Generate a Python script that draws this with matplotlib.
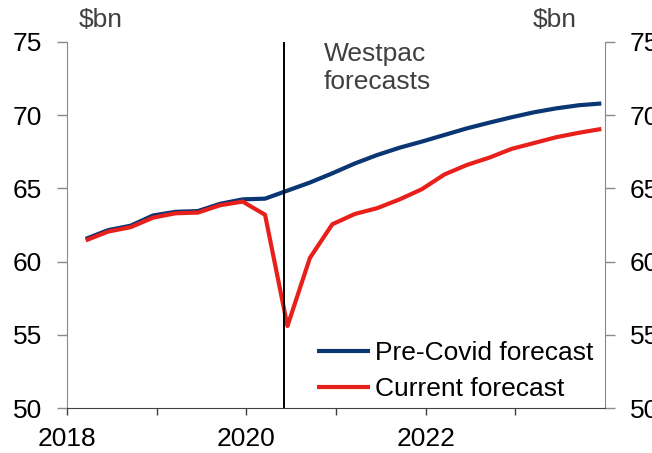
import numpy as np
import matplotlib
matplotlib.use("Agg")
import matplotlib.pyplot as plt

plt.rcParams['font.family'] = ['Liberation Sans', 'DejaVu Sans']

# quarterly data, Mar 2018 .. Dec 2023 (quarter-end months)
years = [2018]*4 + [2019]*4 + [2020]*4 + [2021]*4 + [2022]*4 + [2023]*4
months = [3, 6, 9, 12] * 6
pre_covid = [61.55, 62.15, 62.45, 63.15, 63.4, 63.45, 63.95, 64.25,
             64.3, 64.85, 65.4, 66.03, 66.7, 67.28, 67.78, 68.2,
             68.65, 69.1, 69.49, 69.86, 70.2, 70.47, 70.68, 70.8]
current = [61.45, 62.05, 62.35, 63.0, 63.3, 63.35, 63.85, 64.1,
           63.2, 55.6, 60.25, 62.55, 63.25, 63.65, 64.25, 64.95,
           65.95, 66.6, 67.1, 67.7, 68.1, 68.5, 68.8, 69.06]
forecast_start = 2020.42
yticks = [50, 55, 60, 65, 70, 75]

x = np.array(years) + (np.array(months) - 0.5) / 12.0

fig = plt.figure(figsize=(6.52, 4.53), dpi=100)
ax = fig.add_axes([0.1028, 0.0993, 0.8252, 0.808])

ax.plot(x, pre_covid, color='#0A3673', lw=3, label='Pre-Covid forecast', solid_capstyle='butt')
ax.plot(x, current, color='#E8201C', lw=3, label='Current forecast', solid_capstyle='butt')
ax.axvline(forecast_start, color='black', lw=1.4)

ax.set_xlim(2018, 2024)
ax.set_ylim(50, 75)
ax.set_yticks(yticks)
ax.set_xticks([2018, 2019, 2020, 2021, 2022, 2023])
ax.set_xticklabels(['2018', '', '2020', '', '2022', ''])

ax.spines['top'].set_visible(False)
ax.spines['left'].set_color('#898989')
ax.spines['right'].set_color('#898989')
ax.spines['bottom'].set_color('#404040')

ax.tick_params(axis='y', direction='out', length=7, width=1, color='#898989',
               labelsize=19, pad=11, right=True, labelright=True)
ax.tick_params(axis='x', direction='out', length=5, width=1, color='#404040',
               labelsize=19, pad=9)

fig.text(0.12, 0.955, '$bn', fontsize=19, color='#404040', ha='left', va='center')
fig.text(0.817, 0.955, '$bn', fontsize=19, color='#404040', ha='left', va='center')
ax.text(2020.86, 75.0, 'Westpac\nforecasts', fontsize=19, color='#404040',
        ha='left', va='top', linespacing=1.2)

leg = ax.legend(loc='lower left', bbox_to_anchor=(0.445, -0.01), frameon=False,
                fontsize=19, handlelength=2.0, handletextpad=0.2, labelspacing=0.45,
                borderaxespad=0)

fig.savefig('out.png', dpi=100)
